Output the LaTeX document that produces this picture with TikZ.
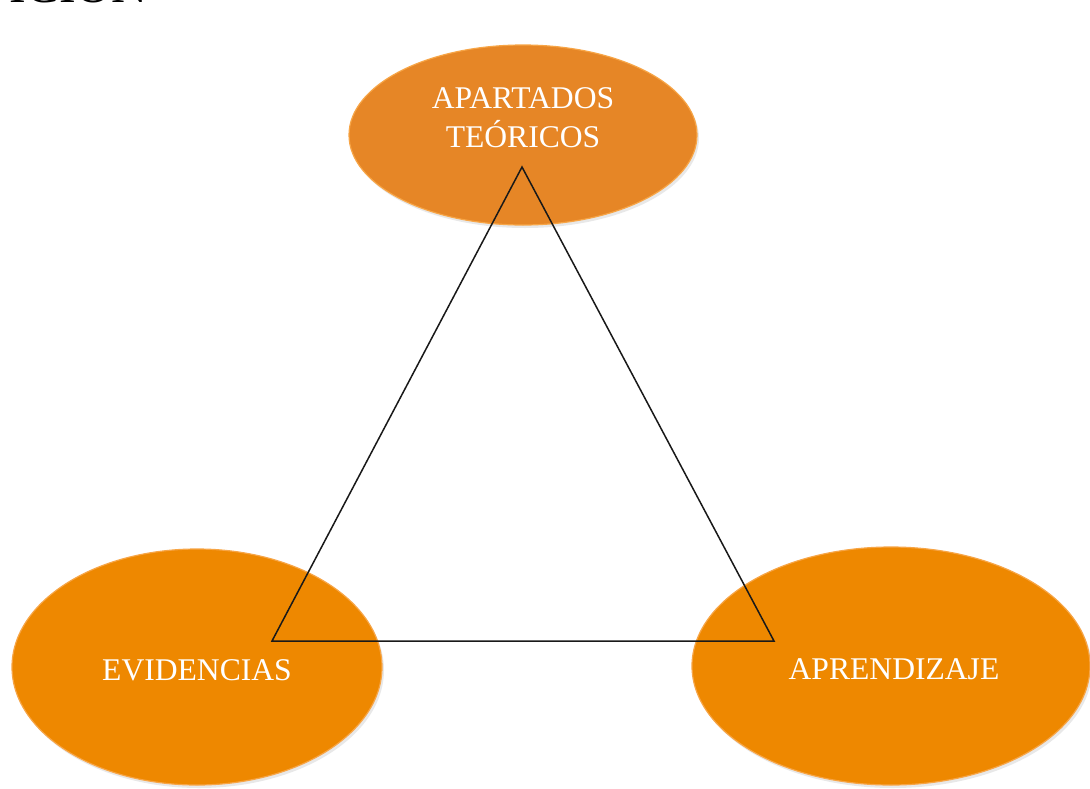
\documentclass[tikz,border=0pt]{standalone}
\usepackage{fontspec}
\setmainfont{Liberation Serif}
\usetikzlibrary{shapes.geometric,shadows}
\definecolor{topfill}{RGB}{230,134,38}
\definecolor{botfill}{RGB}{238,136,0}
\definecolor{rimcol}{RGB}{247,165,70}
\definecolor{linecol}{RGB}{25,25,25}
\tikzset{
  bubble/.style={ellipse, draw=rimcol, line width=1.2pt, inner sep=0pt,
    drop shadow={opacity=0.18, shadow xshift=2pt, shadow yshift=-3pt}},
  lbl/.style={text=white, font=\fontsize{31.6}{39}\selectfont, anchor=base, inner sep=0pt},
  tri/.style={draw=linecol, line width=1.5pt, line join=miter}
}
\begin{document}
\begin{tikzpicture}[x=1pt,y=-1pt]
\useasboundingbox (0,0) rectangle (1090,788);
\clip (0,0) rectangle (1090,788);
\fill[white] (0,0) rectangle (1090,788);
\node[anchor=base west, inner sep=0pt, font=\fontsize{50}{50}\selectfont] (head) at (9,2) {ICIÓN};
\node[bubble, fill=topfill, minimum width=348pt, minimum height=180pt] (top) at (523,135) {};
\node[bubble, fill=botfill, minimum width=370pt, minimum height=236pt] (left) at (197,667) {};
\node[bubble, fill=botfill, minimum width=398pt, minimum height=238pt] (right) at (891,666) {};
\node[lbl] (t1) at (523,108) {APARTADOS};
\node[lbl] (t2) at (523,147) {TEÓRICOS};
\node[lbl] (t3) at (197,680) {EVIDENCIAS};
\node[lbl] (t4) at (894,679) {APRENDIZAJE};
\coordinate (A) at (522,167);
\coordinate (B) at (272,641);
\coordinate (C) at (774,641);
\draw[tri] (A) -- (B) -- (C) -- cycle;
\end{tikzpicture}
\end{document}
